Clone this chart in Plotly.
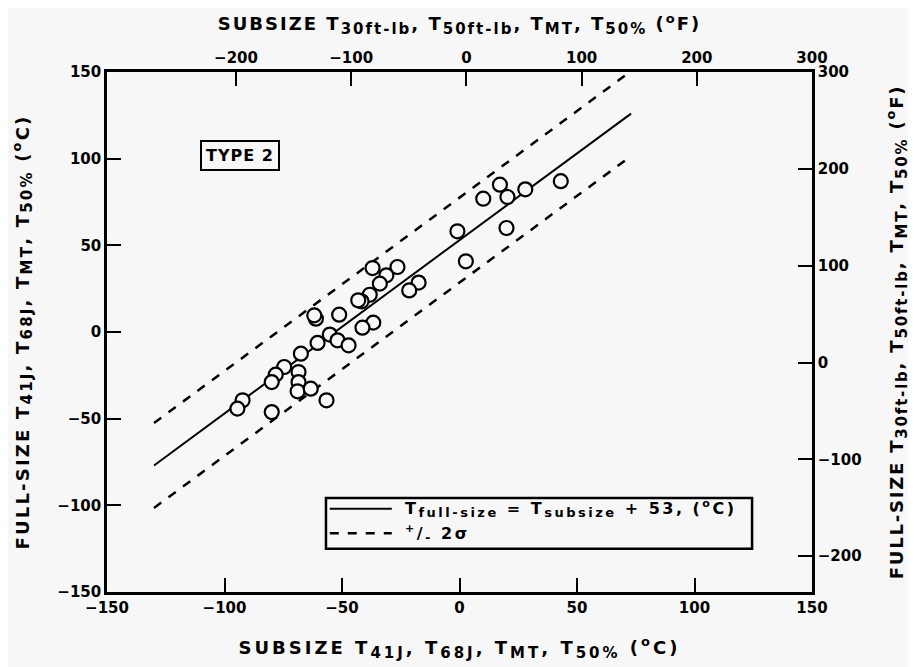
import plotly.graph_objects as go

# Data (°C)
subsize_C = [-37.0, -26.4, -31.1, -33.9, -38.2, -41.7, -43.1, -61.1, -61.8, -51.2,
             -36.7, -41.3, -55.2, -51.9, -47.2, -60.4, -67.5, -74.6, -78.2, -79.9,
             -68.5, -68.5, -68.9, -63.3, -56.6, -79.9, -92.3, -94.5,
             17.2, 10.1, 20.4, 28.0, 43.1, -0.9, 20.0, 2.7, -17.4, -21.4]
fullsize_C = [36.9, 37.5, 32.7, 27.9, 21.5, 17.7, 18.3, 7.7, 9.6, 10.0,
              5.4, 2.5, -1.5, -4.8, -7.7, -6.3, -12.5, -20.2, -24.6, -28.9,
              -23.1, -28.9, -34.2, -32.7, -39.4, -46.2, -39.4, -44.2,
              85.0, 76.9, 77.9, 82.3, 87.0, 58.1, 60.0, 40.8, 28.5, 24.0]

fit_x = [-130, 73]
fit_offset = 53
two_sigma = 24.5

x_ticks_C = [-150, -100, -50, 0, 50, 100, 150]
y_ticks_C = [-150, -100, -50, 0, 50, 100, 150]
top_ticks_F = [-200, -100, 0, 100, 200, 300]
right_ticks_F = [-200, -100, 0, 100, 200, 300]

BG = "#f7f7f7"
FONT = "DejaVu Sans"


def sub(s, px=15):
    return f"<sub><span style='font-size:{px}px'>{s}</span></sub>"


def sup(s, px=12):
    return f"<sup><span style='font-size:{px}px'>{s}</span></sup>"


def spaced(s, ls=2.5):
    return f"<span style='letter-spacing:{ls}px'>{s}</span>"


LBL_FIT = f"T{sub('full-size', 13)} = T{sub('subsize', 13)} + 53, ({sup('o', 11)}C)"
LBL_SIG = f"{sup('+', 11)}/{sub('-', 13)} 2σ"

fit_y = [v + fit_offset for v in fit_x]
up_y = [v + two_sigma for v in fit_y]
lo_y = [v - two_sigma for v in fit_y]

fig = go.Figure()
fig.add_trace(go.Scatter(x=fit_x, y=fit_y, mode="lines",
                         line=dict(color="black", width=2), name=LBL_FIT, showlegend=False))
fig.add_trace(go.Scatter(x=fit_x, y=up_y, mode="lines",
                         line=dict(color="black", width=2.5, dash="dash"), name=LBL_SIG,
                         showlegend=False))
fig.add_trace(go.Scatter(x=fit_x, y=lo_y, mode="lines",
                         line=dict(color="black", width=2.5, dash="dash"),
                         showlegend=False))
fig.add_trace(go.Scatter(x=subsize_C, y=fullsize_C, mode="markers",
                         marker=dict(symbol="circle", size=14, color=BG,
                                     line=dict(color="black", width=2.2)),
                         showlegend=False))
# invisible traces to activate secondary axes
fig.add_trace(go.Scatter(x=[None], y=[None], xaxis="x2", yaxis="y", showlegend=False))
fig.add_trace(go.Scatter(x=[None], y=[None], xaxis="x", yaxis="y2", showlegend=False))

tickfont = dict(family=FONT, size=15, color="black", weight="bold")
titlefont = dict(family=FONT, size=18, color="black", weight="bold")
common = dict(showgrid=False, zeroline=False, showline=True, linecolor="black",
              linewidth=2.5, ticks="inside", ticklen=14, tickwidth=2,
              tickcolor="black", tickfont=tickfont)

title_C = f"T{sub('41J')}, T{sub('68J')}, T{sub('MT')}, T{sub('50%')} ({sup('o', 13)}C)"
title_F = f"T{sub('30ft-lb')}, T{sub('50ft-lb')}, T{sub('MT')}, T{sub('50%')} ({sup('o', 13)}F)"

fig.update_layout(
    width=916, height=667,
    margin=dict(l=99, r=112, t=64, b=83),
    paper_bgcolor=BG, plot_bgcolor=BG,
    font=dict(family=FONT, color="black"),
    xaxis=dict(range=[-150, 150], tickvals=x_ticks_C,
               title=dict(text=spaced("SUBSIZE " + title_C, 3), font=titlefont, standoff=26), **common),
    xaxis2=dict(range=[-312, 300], tickvals=top_ticks_F, overlaying="x", side="top",
                title=dict(text=spaced("SUBSIZE " + title_F, 2), font=titlefont, standoff=14), **common),
    yaxis=dict(range=[-150, 150], tickvals=y_ticks_C,
               title=dict(text=spaced("FULL-SIZE " + title_C, 2.2), font=titlefont, standoff=24), **common),
    yaxis2=dict(range=[-237, 300], tickvals=right_ticks_F, overlaying="y", side="right",
                title=dict(text=spaced("FULL-SIZE " + title_F, 1.8), font=titlefont, standoff=30), **common),
    showlegend=False,
)

# Legend box (drawn manually to match the compact original)
LEG_X0, LEG_X1, LEG_Y0, LEG_Y1 = 0.3106, 0.915, 0.083, 0.181
SAMPLE_X0, SAMPLE_X1, TEXT_X = 0.316, 0.404, 0.420
ROW1_Y, ROW2_Y = 0.160, 0.113
fig.add_shape(type="rect", xref="paper", yref="paper", x0=LEG_X0, x1=LEG_X1, y0=LEG_Y0, y1=LEG_Y1,
              line=dict(color="black", width=2.5), fillcolor=BG, layer="above")
fig.add_shape(type="line", xref="paper", yref="paper", x0=SAMPLE_X0, x1=SAMPLE_X1, y0=ROW1_Y, y1=ROW1_Y,
              line=dict(color="black", width=2))
fig.add_shape(type="line", xref="paper", yref="paper", x0=SAMPLE_X0, x1=SAMPLE_X1, y0=ROW2_Y, y1=ROW2_Y,
              line=dict(color="black", width=2.5, dash="dash"))
legfont = dict(family=FONT, size=16, color="black", weight="bold")
fig.add_annotation(x=TEXT_X, y=ROW1_Y, xref="paper", yref="paper", text=spaced(LBL_FIT, 2.5),
                   showarrow=False, xanchor="left", yanchor="middle", font=legfont)
fig.add_annotation(x=TEXT_X, y=ROW2_Y, xref="paper", yref="paper", text=spaced(LBL_SIG, 2.5),
                   showarrow=False, xanchor="left", yanchor="middle", font=legfont)

fig.add_annotation(x=-93.6, y=102, xref="x", yref="y", text=spaced("TYPE 2", 1),
                   showarrow=False, font=dict(family=FONT, size=16, color="black", weight="bold"),
                   bordercolor="black", borderwidth=2, borderpad=4, bgcolor=BG)

fig.write_html("out.html")
